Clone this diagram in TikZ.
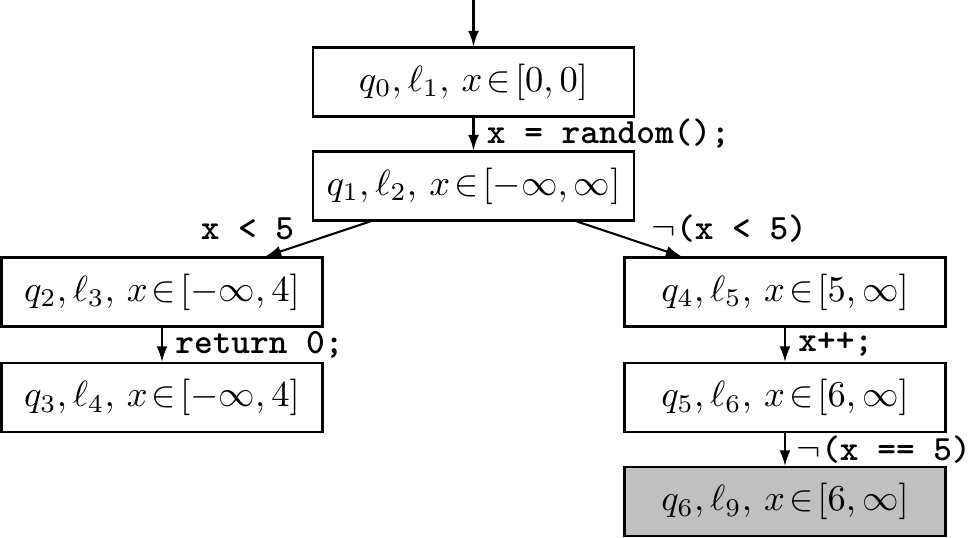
\documentclass[tikz,border=0pt]{standalone}
\usetikzlibrary{arrows.meta,calc}
\begin{document}
\begin{tikzpicture}[x=0.274pt,y=-0.274pt,
  statebox/.style={draw,line width=0.56pt,minimum width=87.95pt,minimum height=18.9pt,inner sep=0pt},
  finalbox/.style={statebox,fill={rgb,255:red,192;green,192;blue,192}},
  edge/.style={line width=0.56pt,-{Latex[length=4.3pt,width=3pt]}},
  lbl/.style={font=\fontsize{9.75pt}{11pt}\selectfont\ttfamily\bfseries,inner sep=1.4pt}]
\useasboundingbox (0,0) rectangle (970,538);
\node[statebox] (q0) at (473.5,82) {$q_0,\ell_1,\,x\!\in\![0,0]$};
\node[statebox] (q1) at (473.5,186) {$q_1,\ell_2,\,x\!\in\![-\infty,\infty]$};
\node[statebox] (q2) at (162,292) {$q_2,\ell_3,\,x\!\in\![-\infty,4]$};
\node[statebox] (q3) at (162,397.5) {$q_3,\ell_4,\,x\!\in\![-\infty,4]$};
\node[statebox] (q4) at (785,292) {$q_4,\ell_5,\,x\!\in\![5,\infty]$};
\node[statebox] (q5) at (785,397.5) {$q_5,\ell_6,\,x\!\in\![6,\infty]$};
\node[finalbox] (q6) at (785,501.5) {$q_6,\ell_9,\,x\!\in\![6,\infty]$};
\coordinate (start) at (473.5,0);
\draw[edge] (start) -- (q0);
\draw[edge] (q0) -- node[lbl,right,xshift=2pt]{x = random();} (q1);
\draw[edge] ($(q1.south west)!0.18!(q1.south east)$) -- ($(q2.north west)!0.82!(q2.north east)$);
\draw[edge] ($(q1.south west)!0.82!(q1.south east)$) -- ($(q4.north west)!0.18!(q4.north east)$);
\node[lbl,anchor=east] (l1) at (300,229) {x < 5};
\node[lbl,anchor=west] (l2) at (646,229) {$\neg$(x < 5)};
\draw[edge] (q2) -- node[lbl,right,xshift=2pt]{return 0;} (q3);
\draw[edge] (q4) -- node[lbl,right,xshift=2pt]{x++;} (q5);
\draw[edge] (q5) -- node[lbl,right,xshift=1.6pt]{$\neg$(x == 5)} (q6);
\end{tikzpicture}
\end{document}
